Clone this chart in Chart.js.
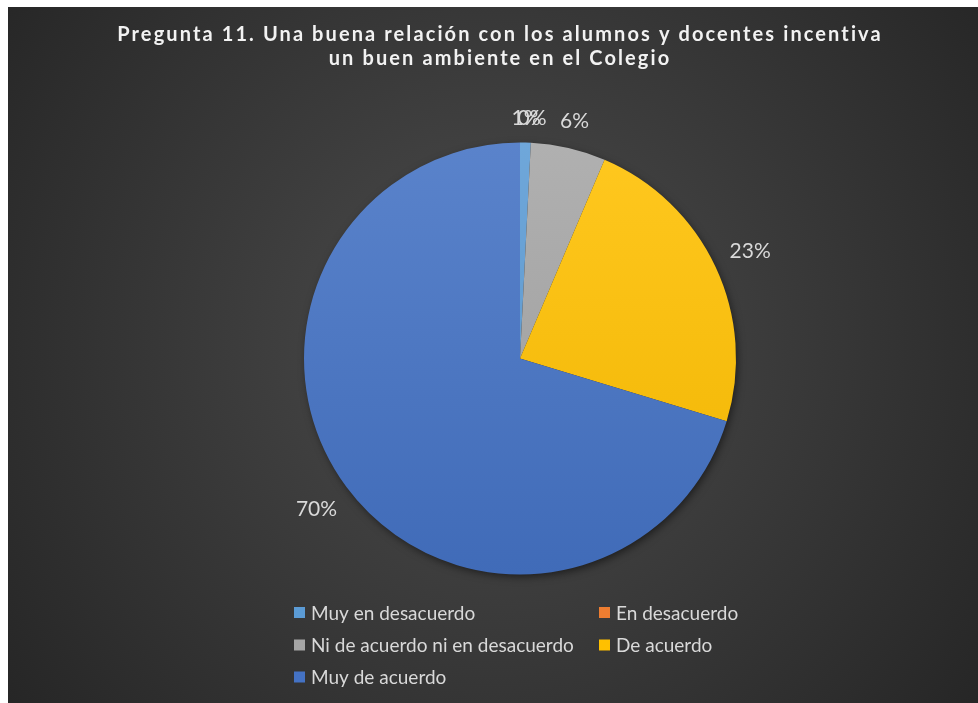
<!DOCTYPE html>
<html>
<head>
<meta charset="utf-8">
<script src="https://cdn.jsdelivr.net/npm/chart.js@4/dist/chart.umd.min.js"></script>
<style>
    html, body { margin: 0; padding: 0; background: #fff; }
    #box { position: absolute; left: 8px; top: 7px; width: 970px; height: 696px; }
</style>
</head>
<body>
<div id="box"><canvas id="chart1"></canvas></div>
<script>
const titleLines = ["Pregunta 11. Una buena relación con los alumnos y docentes incentiva", "un buen ambiente en el Colegio"];
const categories = ["Muy en desacuerdo", "En desacuerdo", "Ni de acuerdo ni en desacuerdo", "De acuerdo", "Muy de acuerdo"];
const values = [0.8, 0, 5.6, 23.3, 70.3];
const colors = ["#5B9BD5", "#ED7D31", "#A5A5A5", "#FFC000", "#4472C4"];

const FONT = "Lato, 'Open Sans', sans-serif";

function mix(hex, target, t) {
    const n = parseInt(hex.slice(1), 16);
    const c = [(n >> 16) & 255, (n >> 8) & 255, n & 255].map((v) => Math.round(v + (target - v) * t));
    return `rgb(${c[0]}, ${c[1]}, ${c[2]})`;
}

function sliceFill(ctx) {
    const base = colors[ctx.dataIndex];
    const area = ctx.chart.chartArea;
    if (!area) return base;
    const g = ctx.chart.ctx.createLinearGradient(0, area.top, 0, area.bottom);
    g.addColorStop(0, mix(base, 255, 0.12));
    g.addColorStop(1, mix(base, 0, 0.06));
    return g;
}

const backdrop = {
    id: "backdrop",
    beforeDraw(chart) {
        const { ctx, width, height } = chart;
        ctx.save();
        const g = ctx.createRadialGradient(485, 330, 0, 485, 330, 640);
        g.addColorStop(0, "#4c4c4c");
        g.addColorStop(1, "#242424");
        ctx.fillStyle = g;
        ctx.fillRect(0, 0, width, height);

        // title, two lines, spaced letters
        ctx.letterSpacing = "2.1px";
        ctx.font = `bold 20px ${FONT}`;
        ctx.fillStyle = "#f2f2f2";
        ctx.textAlign = "center";
        ctx.textBaseline = "middle";
        titleLines.forEach((line, i) => ctx.fillText(line, 492, 28 + i * 24));
        ctx.restore();
    },
    beforeDatasetsDraw(chart) {
        const { ctx } = chart;
        // soft shadow behind the pie
        const arc = chart.getDatasetMeta(0).data[0];
        if (!arc) return;
        const { x, y, outerRadius } = arc.getProps(["x", "y", "outerRadius"], true);
        ctx.save();
        ctx.shadowColor = "rgba(0,0,0,0.55)";
        ctx.shadowBlur = 8;
        ctx.shadowOffsetX = 2;
        ctx.shadowOffsetY = 3;
        ctx.fillStyle = "#2a2a2a";
        ctx.beginPath();
        ctx.arc(x, y, outerRadius - 1, 0, Math.PI * 2);
        ctx.fill();
        ctx.restore();
    }
};

const sliceLabels = {
    id: "sliceLabels",
    afterDatasetsDraw(chart) {
        const { ctx } = chart;
        const data = chart.data.datasets[0].data;
        const total = data.reduce((a, b) => a + b, 0);
        ctx.save();
        ctx.font = `21px ${FONT}`;
        ctx.fillStyle = "#d9d9d9";
        ctx.textAlign = "center";
        ctx.textBaseline = "middle";
        chart.getDatasetMeta(0).data.forEach((arc, i) => {
            const p = arc.getProps(["x", "y", "startAngle", "endAngle", "outerRadius"], true);
            const mid = (p.startAngle + p.endAngle) / 2;
            const text = `${Math.round(data[i] / total * 100)}%`;
            const w = ctx.measureText(text).width;
            const off = 16 + Math.abs(Math.cos(mid)) * w / 2 + Math.abs(Math.sin(mid)) * 8;
            const r = p.outerRadius + off;
            ctx.fillText(text, p.x + Math.cos(mid) * r, p.y + Math.sin(mid) * r);
        });
        ctx.restore();
    }
};

const gridLegend = {
    id: "gridLegend",
    afterDraw(chart) {
        const { ctx } = chart;
        const cols = [286, 591];
        const rows = [605.5, 638, 670];
        ctx.save();
        ctx.font = `19px ${FONT}`;
        ctx.textBaseline = "middle";
        chart.data.labels.forEach((label, i) => {
            const x = cols[i % 2];
            const y = rows[Math.floor(i / 2)];
            ctx.fillStyle = colors[i];
            ctx.fillRect(x, y - 5.5, 11, 11);
            ctx.fillStyle = "#d9d9d9";
            ctx.fillText(label, x + 17, y + 1);
        });
        ctx.restore();
    }
};

new Chart(document.getElementById("chart1"), {
    type: "pie",
    data: {
        labels: categories,
        datasets: [{
            data: values,
            backgroundColor: sliceFill,
            borderWidth: 0
        }]
    },
    options: {
        responsive: true,
        maintainAspectRatio: false,
        animation: false,
        layout: {
            padding: { left: 296, right: 242, top: 135.5, bottom: 128.5 }
        },
        plugins: {
            legend: { display: false },
            tooltip: { enabled: false },
            title: { display: false }
        }
    },
    plugins: [backdrop, sliceLabels, gridLegend]
});
</script>
</body>
</html>
